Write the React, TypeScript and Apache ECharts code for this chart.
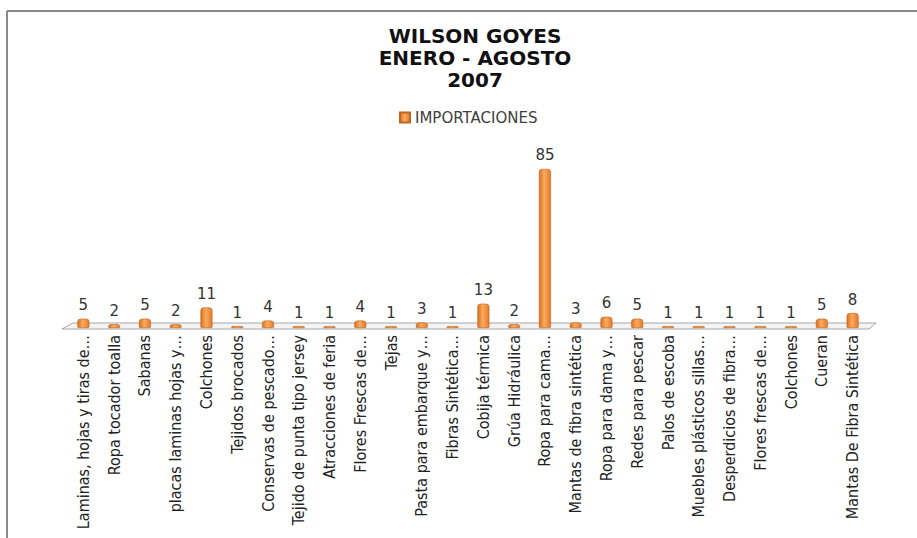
import React, { useEffect, useRef } from "react";
import * as echarts from "echarts";

const titleLines = ["WILSON GOYES", "ENERO - AGOSTO", "2007"];
const seriesName = "IMPORTACIONES";
const categories = [
  "Laminas, hojas y tiras de…",
  "Ropa tocador toalla",
  "Sabanas",
  "placas laminas hojas y…",
  "Colchones",
  "Tejidos brocados",
  "Conservas de pescado…",
  "Tejido de punta tipo jersey",
  "Atracciones de feria",
  "Flores Frescas de…",
  "Tejas",
  "Pasta para embarque y…",
  "Fibras Sintética…",
  "Cobija térmica",
  "Grúa Hidráulica",
  "Ropa para cama…",
  "Mantas de fibra sintética",
  "Ropa para dama y…",
  "Redes para pescar",
  "Palos de escoba",
  "Muebles plásticos sillas…",
  "Desperdicios de fibra…",
  "Flores frescas de…",
  "Colchones",
  "Cueran",
  "Mantas De Fibra Sintética",
];
const values = [5, 2, 5, 2, 11, 1, 4, 1, 1, 4, 1, 3, 1, 13, 2, 85, 3, 6, 5, 1, 1, 1, 1, 1, 5, 8];

export default function App() {
  const ref = useRef<HTMLDivElement>(null);
  useEffect(() => {
    if (!ref.current) return;
    const chart = echarts.init(ref.current, undefined, { renderer: "svg" });
    const barGradient = new echarts.graphic.LinearGradient(0, 0, 1, 0, [
      { offset: 0, color: "#D8701F" },
      { offset: 0.45, color: "#FCAA5E" },
      { offset: 1, color: "#E27A2A" },
    ]);
    chart.setOption({
      animation: false,
      backgroundColor: "#ffffff",
      title: {
        text: titleLines.join("\n"),
        left: 470,
        textAlign: "center",
        top: 20,
        textStyle: {
          fontFamily: "'DejaVu Sans', sans-serif",
          fontWeight: "bold",
          fontSize: 20,
          lineHeight: 22,
          color: "#111",
        },
      },
      legend: {
        data: [seriesName],
        left: 399,
        top: 110,
        padding: 0,
        itemWidth: 10,
        itemHeight: 10,
        icon: "rect",
        textStyle: {
          fontFamily: "'DejaVu Sans', sans-serif",
          fontSize: 15,
          color: "#404040",
        },
      },
      grid: { left: 68, right: 49, top: 159.5, bottom: 210, containLabel: false },
      xAxis: {
        type: "category",
        data: categories,
        axisLine: { show: false },
        axisTick: { show: false },
        axisLabel: {
          interval: 0,
          rotate: 90,
          margin: 7,
          fontFamily: "'Liberation Sans Narrow', 'DejaVu Sans Condensed', sans-serif",
          fontSize: 16,
          color: "#222",
        },
      },
      yAxis: { type: "value", min: 0, max: 90, show: false, splitLine: { show: false } },
      graphic: [
        {
          type: "polygon",
          z: 0,
          shape: { points: [[62, 329], [73, 323], [876, 323], [869, 329]] },
          style: { fill: "#f4f4f4", stroke: "#a6a6a6", lineWidth: 1 },
        },
        {
          type: "line",
          shape: { x1: 7, y1: 11, x2: 917, y2: 11 },
          style: { stroke: "#8a8a8a", lineWidth: 2 },
        },
        {
          type: "line",
          shape: { x1: 7, y1: 11, x2: 7, y2: 538 },
          style: { stroke: "#8a8a8a", lineWidth: 2 },
        },
      ],
      series: [
        {
          name: seriesName,
          type: "bar",
          data: values,
          barWidth: 12,
          z: 3,
          itemStyle: {
            color: barGradient,
            borderColor: "#C0651E",
            borderWidth: 0.6,
            borderRadius: [3, 3, 1, 1],
          },
          label: {
            show: true,
            position: "top",
            distance: 6,
            fontFamily: "'DejaVu Sans', sans-serif",
            fontSize: 15,
            color: "#333",
          },
        },
      ],
    });
    return () => chart.dispose();
  }, []);
  return (
    <div
      ref={ref}
      style={{ position: "absolute", left: 0, top: 0, width: 917, height: 538 }}
    />
  );
}
